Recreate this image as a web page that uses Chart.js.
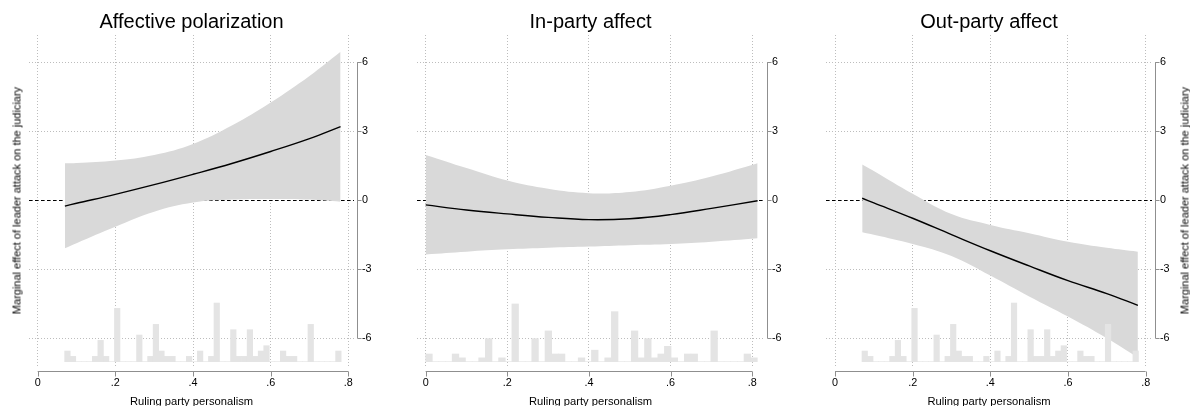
<!DOCTYPE html>
<html>
<head>
<meta charset="utf-8">
<script src="https://cdn.jsdelivr.net/npm/chart.js@4.4.1/dist/chart.umd.min.js"></script>
<style>
  html, body { margin: 0; padding: 0; background: #fff; overflow: hidden; }
  #wrap { position: relative; width: 1190px; height: 406px; overflow: hidden; background: #fff; }
  #wrap canvas { position: absolute; top: 0; }
  .ytitle {
    position: absolute; width: 300px; height: 13px; line-height: 13px;
    font-family: "Liberation Sans", Arial, Helvetica, sans-serif; font-size: 11px;
    color: #000; text-align: center; white-space: nowrap; transform: rotate(-90deg);
  }
</style>
</head>
<body>
<div id="wrap">
  <canvas id="c1" width="397" height="412" style="left:0px"></canvas>
  <canvas id="c2" width="397" height="412" style="left:397px"></canvas>
  <canvas id="c3" width="396" height="412" style="left:794px"></canvas>
  <div class="ytitle" id="ytl" style="left:-133px; top:193.5px"></div>
  <div class="ytitle" id="ytr" style="left:1035px; top:193.5px"></div>
</div>
<script>
// ---- labels and ticks ----
const panelTitles = ['Affective polarization', 'In-party affect', 'Out-party affect'];
const xAxisTitle = 'Ruling party personalism';
const yAxisTitle = 'Marginal effect of leader attack on the judiciary';
const xTickValues = [0, 0.2, 0.4, 0.6, 0.8];
const xTickLabels = ['0', '.2', '.4', '.6', '.8'];
const yTickValues = [-6, -3, 0, 3, 6];
const yTickLabels = ['-6', '-3', '0', '3', '6'];

// ---- marginal effects with 95% bounds, by ruling party personalism ----
// Affective polarization
const affPers   = [0.07, 0.1, 0.2, 0.3, 0.4, 0.5, 0.6, 0.7, 0.78];
const affEffect = [-0.25, -0.13, 0.26, 0.68, 1.13, 1.6, 2.12, 2.68, 3.2];
const affUpper  = [1.61, 1.62, 1.73, 1.97, 2.45, 3.25, 4.25, 5.4, 6.45];
const affLower  = [-2.08, -1.86, -1.15, -0.5, -0.1, 0.03, 0.06, 0.03, -0.06];
// In-party affect
const inPers    = [0, 0.1, 0.2, 0.3, 0.4, 0.5, 0.6, 0.7, 0.813];
const inEffect  = [-0.2, -0.42, -0.59, -0.74, -0.84, -0.8, -0.62, -0.35, -0.02];
const inUpper   = [1.97, 1.4, 0.86, 0.5, 0.31, 0.36, 0.63, 1.03, 1.61];
const inLower   = [-2.35, -2.23, -2.13, -2.06, -2.01, -1.95, -1.9, -1.8, -1.65];
// Out-party affect
const outPers   = [0.07, 0.1, 0.2, 0.3, 0.4, 0.5, 0.6, 0.7, 0.78];
const outEffect = [0.09, -0.11, -0.78, -1.49, -2.19, -2.85, -3.49, -4.05, -4.56];
const outUpper  = [1.56, 1.27, 0.28, -0.6, -1.07, -1.43, -1.8, -2.06, -2.23];
const outLower  = [-1.39, -1.5, -1.9, -2.42, -3.27, -4.18, -5.05, -5.99, -6.82];

// ---- distribution of ruling party personalism (50 bins) ----
const histStartA = 0.0695;
const histWidthA = 0.01424;
const histCountsA = [2, 1, 0, 0, 0, 1, 4, 1, 0, 10,
                     0, 0, 0, 5, 0, 1, 7, 2, 1, 1,
                     0, 0, 1, 0, 2, 0, 1, 11, 0, 0,
                     6, 1, 1, 6, 1, 2, 3, 0, 0, 2,
                     1, 1, 0, 0, 7, 0, 0, 0, 0, 2];
const histStartB = 0;
const histWidthB = 0.016245;
const histCountsB = [2, 0, 0, 0, 2, 1, 0, 0, 1, 6,
                     0, 1, 0, 15, 0, 0, 6, 0, 8, 2,
                     2, 0, 0, 1, 0, 3, 0, 1, 13, 0,
                     0, 8, 1, 6, 1, 2, 4, 1, 0, 2,
                     2, 0, 0, 8, 0, 0, 0, 0, 2, 1];

const FONT = '"Liberation Sans", Arial, Helvetica, sans-serif';
Chart.defaults.font.family = FONT;
Chart.defaults.color = '#000';

document.getElementById('ytl').textContent = yAxisTitle;
document.getElementById('ytr').textContent = yAxisTitle;

function toPoints(xs, ys) {
  return xs.map((x, i) => ({ x: x, y: ys[i] }));
}
function histPoints(start, width, counts) {
  const n = counts.reduce((a, b) => a + b, 0);
  return counts.map((c, i) => ({ x: start + (i + 0.5) * width, y: c / (n * width) }));
}

// dashed reference line at zero, axis lines spanning the labelled ticks
const stataAxes = {
  id: 'stataAxes',
  beforeDatasetsDraw(chart) {
    const { ctx, chartArea: a, scales } = chart;
    const y0 = Math.round(scales.y.getPixelForValue(0)) + 0.5;
    ctx.save();
    ctx.strokeStyle = '#000';
    ctx.lineWidth = 1;
    ctx.setLineDash([3.5, 2.5]);
    ctx.beginPath();
    ctx.moveTo(a.left, y0);
    ctx.lineTo(a.right, y0);
    ctx.stroke();
    ctx.restore();
  },
  afterDraw(chart) {
    const { ctx, chartArea: a, scales } = chart;
    const xs = scales.x, ys = scales.y;
    ctx.save();
    ctx.strokeStyle = '#8f8f8f';
    ctx.lineWidth = 1;
    // x axis
    const xa = Math.round(a.bottom + 4) + 0.5;
    ctx.beginPath();
    ctx.moveTo(xs.getPixelForValue(xTickValues[0]), xa);
    ctx.lineTo(xs.getPixelForValue(xTickValues[xTickValues.length - 1]), xa);
    xTickValues.forEach(v => {
      const px = Math.round(xs.getPixelForValue(v)) + 0.5;
      ctx.moveTo(px, xa);
      ctx.lineTo(px, xa + 5);
    });
    ctx.stroke();
    // y axis
    const ya = Math.round(a.right + 3) + 0.5;
    ctx.beginPath();
    ctx.moveTo(ya, ys.getPixelForValue(yTickValues[0]));
    ctx.lineTo(ya, ys.getPixelForValue(yTickValues[yTickValues.length - 1]));
    yTickValues.forEach(v => {
      const py = Math.round(ys.getPixelForValue(v)) + 0.5;
      ctx.moveTo(ya, py);
      ctx.lineTo(ya + 4, py);
    });
    ctx.stroke();
    ctx.restore();
  }
};

const panels = [
  { canvas: 'c1', title: panelTitles[0], pers: affPers, effect: affEffect, upper: affUpper, lower: affLower,
    hist: histPoints(histStartA, histWidthA, histCountsA),
    padLeft: 29, axisWidth: 43, xMin: -0.0224, xMax: 0.8146 },
  { canvas: 'c2', title: panelTitles[1], pers: inPers, effect: inEffect, upper: inUpper, lower: inLower,
    hist: histPoints(histStartB, histWidthB, histCountsB),
    padLeft: 20, axisWidth: 30, xMin: -0.0212, xMax: 0.8287 },
  { canvas: 'c3', title: panelTitles[2], pers: outPers, effect: outEffect, upper: outUpper, lower: outLower,
    hist: histPoints(histStartA, histWidthA, histCountsA),
    padLeft: 32, axisWidth: 38, xMin: -0.0232, xMax: 0.8164 }
];

panels.forEach(p => {
  new Chart(document.getElementById(p.canvas), {
    type: 'line',
    data: {
      datasets: [
        { type: 'line', label: 'effect', data: toPoints(p.pers, p.effect),
          borderColor: '#000', borderWidth: 1.4, pointRadius: 0, fill: false,
          tension: 0.4, order: 0 },
        { type: 'bar', label: 'hist', data: p.hist, yAxisID: 'yh',
          backgroundColor: '#e4e4e4', borderWidth: 0,
          barPercentage: 1, categoryPercentage: 1, order: 1 },
        { type: 'line', label: 'upper', data: toPoints(p.pers, p.upper),
          borderWidth: 0, borderColor: 'rgba(0,0,0,0)', pointRadius: 0,
          backgroundColor: '#d9d9d9', fill: '+1', tension: 0.4, order: 2 },
        { type: 'line', label: 'lower', data: toPoints(p.pers, p.lower),
          borderWidth: 0, borderColor: 'rgba(0,0,0,0)', pointRadius: 0,
          fill: false, tension: 0.4, order: 3 }
      ]
    },
    options: {
      responsive: false,
      animation: false,
      events: [],
      layout: { padding: { left: p.padLeft, right: 0, top: 0, bottom: 0 } },
      plugins: {
        legend: { display: false },
        tooltip: { enabled: false },
        title: {
          display: true, text: p.title, fullSize: false,
          font: { family: FONT, size: 20, weight: 'normal' }, color: '#000',
          padding: { top: 10, bottom: 1 }
        }
      },
      scales: {
        x: {
          type: 'linear', min: p.xMin, max: p.xMax, offset: false,
          afterBuildTicks: s => { s.ticks = xTickValues.map(v => ({ value: v })); },
          afterFit: s => { s.height = 45; },
          ticks: {
            autoSkip: false, maxRotation: 0, padding: 10,
            font: { size: 10.8 }, color: '#000',
            callback: v => xTickLabels[xTickValues.indexOf(v)]
          },
          grid: { color: '#bdbdbd', lineWidth: 1, drawTicks: false, offset: false },
          border: { display: false, dash: [1, 2] },
          title: {
            display: true, text: xAxisTitle, color: '#000',
            font: { size: 11.2 }, padding: { top: 0, bottom: 3.8 }
          }
        },
        y: {
          type: 'linear', position: 'right', min: -7.24, max: 7.18,
          afterBuildTicks: s => { s.ticks = yTickValues.map(v => ({ value: v })); },
          afterFit: s => { s.width = p.axisWidth; },
          ticks: {
            autoSkip: false, padding: 8, font: { size: 10.8 }, color: '#000',
            callback: v => yTickLabels[yTickValues.indexOf(v)]
          },
          grid: { color: '#bdbdbd', lineWidth: 1, drawTicks: false },
          border: { display: false, dash: [1, 2] }
        },
        yh: {
          type: 'linear', display: false, min: -0.83, max: 51.21
        }
      }
    },
    plugins: [stataAxes]
  });
});
</script>
</body>
</html>
